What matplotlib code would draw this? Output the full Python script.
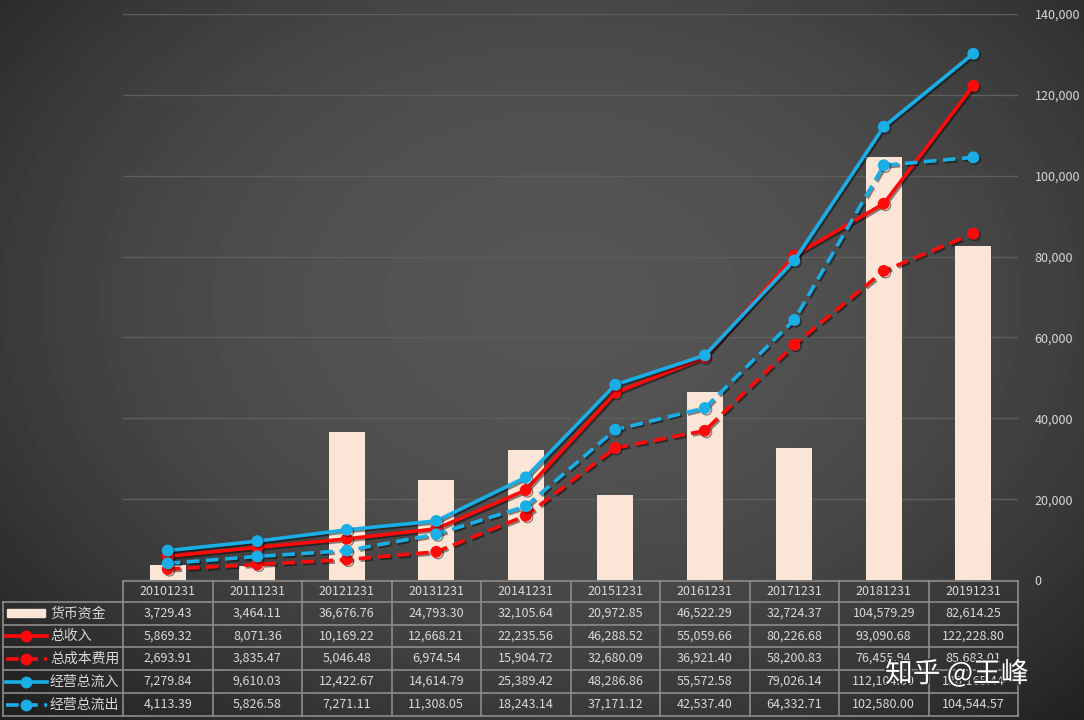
import numpy as np
import matplotlib.pyplot as plt
import matplotlib.patheffects as pe
from matplotlib.lines import Line2D
from matplotlib.patches import Rectangle

plt.rcParams['font.family'] = ['Noto Sans CJK SC', 'DejaVu Sans']

# 数据
dates = ['20101231', '20111231', '20121231', '20131231', '20141231',
         '20151231', '20161231', '20171231', '20181231', '20191231']
cash = [3729.43, 3464.11, 36676.76, 24793.30, 32105.64,
        20972.85, 46522.29, 32724.37, 104579.29, 82614.25]
revenue = [5869.32, 8071.36, 10169.22, 12668.21, 22235.56,
           46288.52, 55059.66, 80226.68, 93090.68, 122228.80]
cost = [2693.91, 3835.47, 5046.48, 6974.54, 15904.72,
        32680.09, 36921.40, 58200.83, 76455.94, 85683.01]
op_in = [7279.84, 9610.03, 12422.67, 14614.79, 25389.42,
         48286.86, 55572.58, 79026.14, 112104.50, 130165.44]
op_out = [4113.39, 5826.58, 7271.11, 11308.05, 18243.14,
          37171.12, 42537.40, 64332.71, 102580.00, 104544.57]
names = ['货币资金', '总收入', '总成本费用', '经营总流入', '经营总流出']
yticks = [0, 20000, 40000, 60000, 80000, 100000, 120000, 140000]

RED = '#FF0A0A'
BLUE = '#1AAEE6'
BAR = '#FBE5D6'
TXT = '#D9D9D9'
GRID = '#8C8C8C'

W, H = 1084, 720
fig = plt.figure(figsize=(W / 100, H / 100), dpi=100)


def fx(x):
    return x / W


def fy(y):
    return 1 - y / H


# 背景渐变
bg = fig.add_axes([0, 0, 1, 1])
yy, xx = np.mgrid[0:H, 0:W]
r2 = ((xx - 560) / 760.0) ** 2 + ((yy - 300) / 560.0) ** 2
v = np.clip(0.335 - 0.2 * r2, 0.13, 1)
bg.imshow(v, cmap='gray', vmin=0, vmax=1, aspect='auto', extent=[0, 1, 0, 1])
bg.set_axis_off()

ax = fig.add_axes([fx(123), fy(580), fx(1018) - fx(123), fy(14) - fy(580)])
ax.patch.set_alpha(0)
x = np.arange(len(dates))
shadow = [pe.SimpleLineShadow(offset=(1.2, -1.2), shadow_color='black', alpha=0.45), pe.Normal()]

ax.bar(x, cash, 0.4, color=BAR, zorder=2)
styles = [
    (revenue, RED, '-'),
    (cost, RED, (0, (3.5, 1.8))),
    (op_in, BLUE, '-'),
    (op_out, BLUE, (0, (3.5, 1.8))),
]
for vals, c, ls in styles:
    ax.plot(x, vals, color=c, ls=ls, lw=2.6, marker='o', ms=7.5, zorder=3,
            path_effects=shadow)

ax.set_xlim(-0.5, len(dates) - 0.5)
ax.set_ylim(0, 140000)
ax.set_xticks([])
ax.yaxis.tick_right()
ax.set_yticks(yticks)
ax.set_yticklabels(['{:,}'.format(t) for t in yticks], color=TXT, fontsize=9)
ax.tick_params(axis='y', length=0, pad=12)
ax.grid(axis='y', color='#5E5E5E', lw=1.0, zorder=0)
for s in ax.spines.values():
    s.set_visible(False)

# 数据表
col_w = (1018 - 123) / len(dates)
col_x = [123 + col_w * i for i in range(len(dates) + 1)]
row_y = [581, 602, 624.5, 647, 670, 693, 716]


def hline(x0, x1, y):
    fig.add_artist(Line2D([fx(x0), fx(x1)], [fy(y), fy(y)], color=GRID, lw=1.2))


def vline(x, y0, y1):
    fig.add_artist(Line2D([fx(x), fx(x)], [fy(y0), fy(y1)], color=GRID, lw=1.2))


hline(123, 1018, row_y[0])
for y in row_y[1:]:
    hline(3, 1018, y)
vline(3, row_y[1], row_y[-1])
for cx in col_x:
    vline(cx, row_y[0], row_y[-1])

for i, d in enumerate(dates):
    fig.text(fx(col_x[i] + col_w / 2), fy((row_y[0] + row_y[1]) / 2), d,
             ha='center', va='center', color=TXT, fontsize=9)

table_rows = [cash, revenue, cost, op_in, op_out]
for j, vals in enumerate(table_rows):
    yc = (row_y[j + 1] + row_y[j + 2]) / 2
    for i, val in enumerate(vals):
        fig.text(fx(col_x[i] + col_w / 2), fy(yc), '{:,.2f}'.format(val),
                 ha='center', va='center', color=TXT, fontsize=9)
    fig.text(fx(50), fy(yc), names[j], ha='left', va='center', color=TXT, fontsize=10)
    if j == 0:
        fig.add_artist(Rectangle((fx(7), fy(yc + 4)), fx(45) - fx(7), fy(yc - 4) - fy(yc + 4),
                                 transform=fig.transFigure, color=BAR))
    else:
        c, ls = styles[j - 1][1], styles[j - 1][2]
        fig.add_artist(Line2D([fx(6), fx(47)], [fy(yc), fy(yc)], color=c, ls=ls, lw=2.6))
        fig.add_artist(Line2D([fx(26)], [fy(yc)], color=c, marker='o', ms=7.5))

fig.text(fx(885), fy(674), '知乎 @王峰', ha='left', va='center', color='white',
         fontsize=20, path_effects=[pe.withStroke(linewidth=2, foreground='#333333')])

fig.savefig('out.png', dpi=100)
